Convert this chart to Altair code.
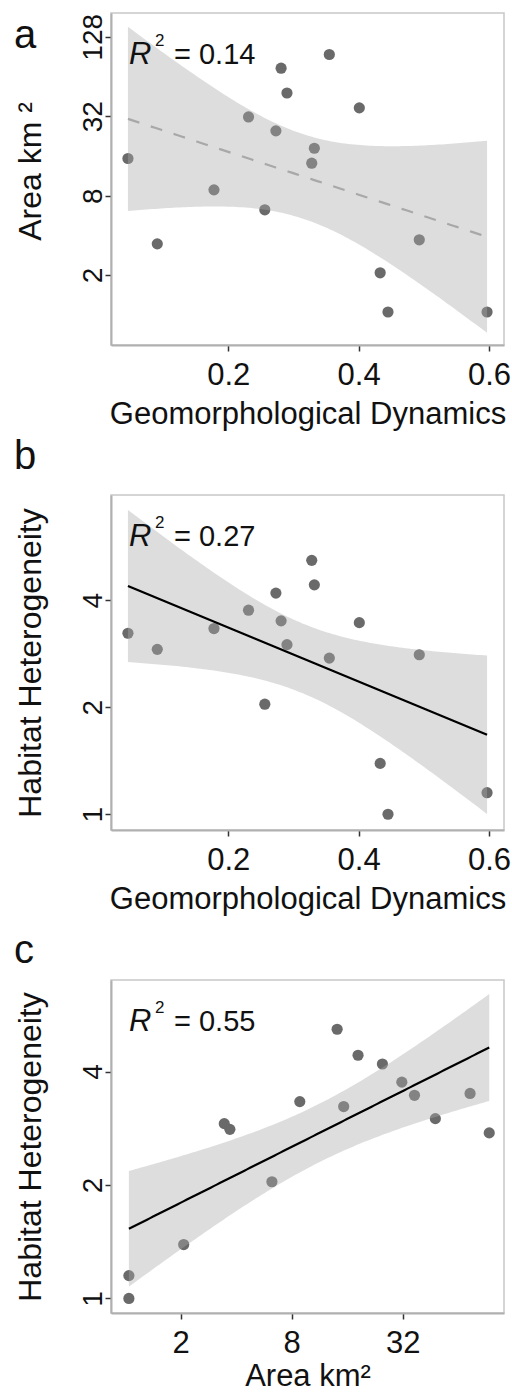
import numpy as np
import pandas as pd
import altair as alt

FONT = "Liberation Sans"

# Sixteen study sites: geomorphological dynamics, area (km²) and habitat heterogeneity
geomorph = [0.046, 0.091, 0.178, 0.231, 0.256, 0.273, 0.281, 0.290,
            0.328, 0.332, 0.355, 0.401, 0.433, 0.445, 0.493, 0.597]
area_km2 = [15.3, 3.45, 8.85, 31.6, 6.25, 24.8, 74.0, 48.0,
            14.1, 18.3, 94.0, 37.0, 2.08, 1.05, 3.70, 1.05]
habitat = [3.23, 2.91, 3.33, 3.75, 2.04, 4.19, 3.50, 3.00,
           5.18, 4.42, 2.75, 3.46, 1.39, 1.00, 2.81, 1.15]

panel_letters = ["a", "b", "c"]
r2_values = ["0.14", "0.27", "0.55"]

geo_ticks = [0.2, 0.4, 0.6]
area_ticks = [2, 8, 32, 128]
area_ticks_x = [2, 8, 32]
hh_ticks = [1, 2, 4]

T_CRIT = 2.1448  # 97.5 % Student t quantile, n - 2 = 14 df

W = 393
H_A, H_B, H_C = 332, 335, 333
POINT = "#6a6a6a"


def lm_fit(x, y, n=120):
    """OLS line with its 95 % confidence band, evaluated over the x range."""
    x = np.asarray(x, float)
    y = np.asarray(y, float)
    slope, intercept = np.polyfit(x, y, 1)
    resid = y - (intercept + slope * x)
    s = np.sqrt(resid @ resid / (len(x) - 2))
    sxx = ((x - x.mean()) ** 2).sum()
    grid = np.linspace(x.min(), x.max(), n)
    fit = intercept + slope * grid
    se = s * np.sqrt(1 / len(x) + (grid - x.mean()) ** 2 / sxx)
    return grid, fit, fit - T_CRIT * se, fit + T_CRIT * se


def x_axis(values, fmt, title, title_y=78):
    return alt.Axis(values=values, format=fmt, title=title,
                    labelFontSize=31, labelPadding=9, labelFlush=False,
                    labelOverlap=False, titleFontSize=31, titleAngle=0,
                    titleX=W / 2, titleY=title_y, titleAlign="center",
                    titleBaseline="alphabetic")


def y_axis(values, title, h, title_y=None):
    return alt.Axis(values=values, format="d", title=title,
                    labelFontSize=28, labelAngle=270, labelAlign="center",
                    labelBaseline="alphabetic", labelPadding=4,
                    labelOverlap=False, labelFlush=False,
                    titleFontSize=32, titleAngle=270, titleAlign="center",
                    titleBaseline="alphabetic", titleX=-71,
                    titleY=h / 2 if title_y is None else title_y)


def text_layer(label, px, py, size, style="normal", align="left"):
    return alt.Chart(pd.DataFrame({"label": [label]})).mark_text(
        font=FONT, fontSize=size, fontStyle=style, align=align,
        baseline="alphabetic", color="#111111"
    ).encode(x=alt.value(px), y=alt.value(py), text="label:N")


def panel(pts, fit, xscale, yscale, xax, yax, h, dashed, letter, letter_y, r2):
    X = lambda f: alt.X(f, type="quantitative", scale=xscale, axis=xax)
    Y = lambda f: alt.Y(f, type="quantitative", scale=yscale, axis=yax)
    points = alt.Chart(pts).mark_circle(size=125, color=POINT, opacity=1).encode(
        x=X("x"), y=Y("y"))
    # translucent band drawn over the points, as in the original figure
    band = alt.Chart(fit).mark_area(color="#aaaaaa", opacity=0.4).encode(
        x=X("x"), y=Y("lo"), y2="hi")
    if dashed:
        line_mark = alt.Chart(fit).mark_line(color="#a8a8a8", strokeWidth=2.2,
                                              strokeDash=[12, 12])
    else:
        line_mark = alt.Chart(fit).mark_line(color="black", strokeWidth=2.2)
    line = line_mark.encode(x=X("x"), y=Y("fit"))
    layers = [
        points, band, line,
        text_layer("R", 18, 51, 31, style="italic"),
        text_layer("2", 44, 33, 17),
        text_layer("= " + r2, 63, 51, 29),
        text_layer(letter, -97, letter_y, 40),
    ]
    return alt.layer(*layers).properties(width=W, height=h)


# Panel a: area against geomorphological dynamics (log2 area)
gx, f, lo, hi = lm_fit(geomorph, np.log2(area_km2))
pts_a = pd.DataFrame({"x": geomorph, "y": area_km2})
fit_a = pd.DataFrame({"x": gx, "fit": 2 ** f, "lo": 2 ** lo, "hi": 2 ** hi})

# Panel b: habitat heterogeneity against geomorphological dynamics
gx, f, lo, hi = lm_fit(geomorph, np.log2(habitat))
pts_b = pd.DataFrame({"x": geomorph, "y": habitat})
fit_b = pd.DataFrame({"x": gx, "fit": 2 ** f, "lo": 2 ** lo, "hi": 2 ** hi})

# Panel c: habitat heterogeneity against area (both log2)
gx, f, lo, hi = lm_fit(np.log2(area_km2), np.log2(habitat))
pts_c = pd.DataFrame({"x": area_km2, "y": habitat})
fit_c = pd.DataFrame({"x": 2 ** gx, "fit": 2 ** f, "lo": 2 ** lo, "hi": 2 ** hi})

geo_scale = alt.Scale(domain=[0.02, 0.623], nice=False, zero=False)

pa = panel(
    pts_a, fit_a, geo_scale,
    alt.Scale(type="log", base=2, domain=[0.59, 194], nice=False),
    x_axis(geo_ticks, ".1f", "Geomorphological Dynamics"),
    y_axis(area_ticks, "Area km ²", H_A, title_y=158),
    H_A, True, panel_letters[0], 35, r2_values[0])

pb = panel(
    pts_b, fit_b, geo_scale,
    alt.Scale(type="log", base=2, domain=[0.903, 7.91], nice=False),
    x_axis(geo_ticks, ".1f", "Geomorphological Dynamics"),
    y_axis(hh_ticks, "Habitat Heterogeneity", H_B),
    H_B, False, panel_letters[1], -26, r2_values[1])

pc = panel(
    pts_c, fit_c,
    alt.Scale(type="log", base=2, domain=[0.84, 113], nice=False),
    alt.Scale(type="log", base=2, domain=[0.915, 7.0], nice=False),
    x_axis(area_ticks_x, "d", "Area km²", title_y=72),
    y_axis(hh_ticks, "Habitat Heterogeneity", H_C),
    H_C, False, panel_letters[2], -17, r2_values[2])

chart = alt.vconcat(pa, pb, pc, spacing=150, bounds="flush").properties(
    padding={"left": 13, "top": 12, "right": 0, "bottom": 0},
    background="white",
).configure_view(
    stroke="#c8c8c8", strokeWidth=1.5
).configure_axis(
    grid=False, domainColor="#b0b0b0", domainWidth=2,
    tickColor="#333333", tickWidth=1.5, tickSize=6,
    labelColor="#111111", titleColor="#111111",
    labelFont=FONT, titleFont=FONT, titleFontWeight="normal",
)

chart.save("out.html", embed_options={"renderer": "svg", "actions": False})
